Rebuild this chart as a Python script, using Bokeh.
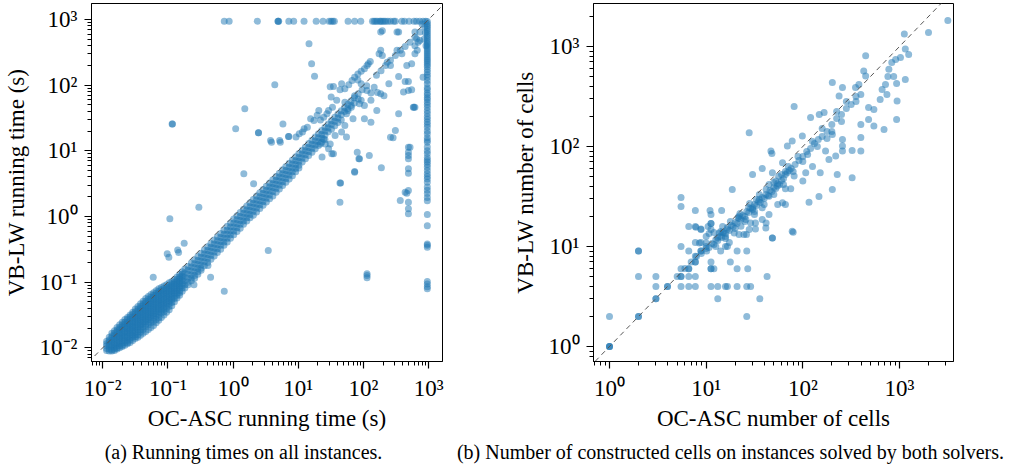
import numpy as np
from bokeh.plotting import figure
from bokeh.models import Range1d, FixedTicker, CustomJSTickFormatter, Label
from bokeh.layouts import row, column
from bokeh.embed import file_html
from bokeh.resources import INLINE

SERIF = "Liberation Serif"
BLUE = "#1f77b4"

# ---------------- data (log10 values) ----------------
# (a) running times: OC-ASC (x) vs VB-LW (y), log10 seconds
TIMEOUT_LOG = 2.975
a_top_row_x = [-0.135, -0.06, 0.372, 0.69, 0.69, 0.70, 0.855, 0.93, 1.089, 1.275, 1.38, 1.474,
               1.504, 1.53, 1.554, 1.764, 1.865, 1.959, 2.139, 2.164, 2.19, 2.214, 2.25, 2.265,
               2.29, 2.315, 2.34, 2.375, 2.415, 2.465, 2.49, 2.589, 2.63, 2.70, 2.775, 2.814,
               2.865, 2.915, 2.955]
a_right_col_y = [2.97, 2.94, 2.91, 2.88, 2.85, 2.82, 2.79, 2.76, 2.73, 2.70, 2.67, 2.64, 2.61,
                 2.58, 2.55, 2.52, 2.49, 2.46, 2.43, 2.40, 2.37, 2.34, 2.31, 2.28, 2.24, 2.20,
                 2.16, 2.12, 2.07, 2.02, 1.96, 1.93, 1.88, 1.85, 1.81, 1.78, 1.74, 1.70, 1.66,
                 1.61, 1.57, 1.52, 1.48, 1.44, 1.40, 1.36, 1.30, 1.26, 1.20, 1.16, 1.13, 1.06,
                 1.00, 0.96, 0.90, 0.86, 0.83, 0.79, 0.75, 0.70, 0.65, 0.61, 0.57, 0.52, 0.45,
                 0.40, 0.35, 0.29, 0.24, 0.03, -0.14, -0.42, -0.44, -0.47, -0.99, -1.03,
                 -1.07, -1.10]
# dense cloud of short instances: (log10 x, [log10 y values])
a_cloud_cols = [
    (-1.94, [-1.90, -1.94, -1.97, -2.01, -2.04]),
    (-1.90, [-1.84, -1.88, -1.91, -1.95, -1.98, -2.02, -2.05]),
    (-1.86, [-1.78, -1.82, -1.85, -1.89, -1.92, -1.96, -1.99, -2.03, -2.05]),
    (-1.82, [-1.74, -1.78, -1.81, -1.85, -1.88, -1.92, -1.95, -1.99, -2.02, -2.04]),
    (-1.78, [-1.69, -1.73, -1.76, -1.80, -1.83, -1.87, -1.90, -1.94, -1.97, -2.00, -2.02]),
    (-1.74, [-1.65, -1.69, -1.72, -1.76, -1.79, -1.83, -1.86, -1.90, -1.93, -1.97, -2.00]),
    (-1.70, [-1.61, -1.65, -1.68, -1.72, -1.75, -1.79, -1.82, -1.86, -1.89, -1.93, -1.96, -1.98]),
    (-1.66, [-1.57, -1.61, -1.64, -1.68, -1.71, -1.75, -1.78, -1.82, -1.85, -1.89, -1.92, -1.96]),
    (-1.62, [-1.54, -1.57, -1.61, -1.64, -1.68, -1.71, -1.75, -1.78, -1.82, -1.85, -1.89, -1.92, -1.94]),
    (-1.58, [-1.50, -1.53, -1.57, -1.60, -1.64, -1.67, -1.71, -1.74, -1.78, -1.81, -1.85, -1.88, -1.92]),
    (-1.54, [-1.46, -1.49, -1.53, -1.56, -1.60, -1.63, -1.67, -1.70, -1.74, -1.77, -1.81, -1.84, -1.89]),
    (-1.50, [-1.41, -1.45, -1.48, -1.52, -1.55, -1.59, -1.62, -1.66, -1.69, -1.73, -1.76, -1.80, -1.83, -1.86]),
    (-1.46, [-1.37, -1.41, -1.44, -1.48, -1.51, -1.55, -1.58, -1.62, -1.65, -1.69, -1.72, -1.76, -1.80, -1.84]),
    (-1.42, [-1.33, -1.37, -1.40, -1.44, -1.47, -1.51, -1.54, -1.58, -1.61, -1.65, -1.68, -1.72, -1.76, -1.81]),
    (-1.38, [-1.29, -1.33, -1.36, -1.40, -1.43, -1.47, -1.50, -1.54, -1.57, -1.61, -1.64, -1.68, -1.72, -1.78]),
    (-1.34, [-1.25, -1.29, -1.32, -1.36, -1.39, -1.43, -1.46, -1.50, -1.53, -1.57, -1.60, -1.64, -1.68, -1.75]),
    (-1.30, [-1.22, -1.26, -1.29, -1.33, -1.36, -1.40, -1.43, -1.47, -1.50, -1.54, -1.57, -1.61, -1.65, -1.72]),
    (-1.26, [-1.19, -1.23, -1.26, -1.30, -1.33, -1.37, -1.40, -1.44, -1.47, -1.51, -1.54, -1.58, -1.62, -1.69]),
    (-1.22, [-1.16, -1.20, -1.23, -1.27, -1.30, -1.34, -1.37, -1.41, -1.44, -1.48, -1.51, -1.55, -1.60, -1.66]),
    (-1.18, [-1.13, -1.17, -1.20, -1.24, -1.27, -1.31, -1.34, -1.38, -1.41, -1.45, -1.48, -1.52, -1.57, -1.62]),
    (-1.14, [-1.10, -1.14, -1.17, -1.21, -1.24, -1.28, -1.31, -1.35, -1.38, -1.42, -1.45, -1.49, -1.54, -1.58]),
    (-1.10, [-1.08, -1.12, -1.15, -1.19, -1.22, -1.26, -1.29, -1.33, -1.36, -1.40, -1.43, -1.47, -1.54]),
    (-1.06, [-1.06, -1.10, -1.13, -1.17, -1.20, -1.24, -1.27, -1.31, -1.34, -1.38, -1.41, -1.45, -1.50]),
    (-1.02, [-1.04, -1.08, -1.11, -1.15, -1.18, -1.22, -1.25, -1.29, -1.32, -1.36, -1.40, -1.46]),
    (-0.98, [-1.01, -1.05, -1.08, -1.12, -1.15, -1.19, -1.22, -1.26, -1.29, -1.33, -1.37, -1.42]),
    (-0.94, [-0.99, -1.03, -1.06, -1.10, -1.13, -1.17, -1.20, -1.24, -1.27, -1.31, -1.36]),
    (-0.90, [-0.96, -1.00, -1.03, -1.07, -1.10, -1.14, -1.17, -1.21, -1.25, -1.30]),
    (-0.86, [-0.92, -0.96, -0.99, -1.03, -1.06, -1.10, -1.13, -1.17, -1.20, -1.24]),
    (-0.82, [-0.88, -0.92, -0.95, -0.99, -1.02, -1.06, -1.09, -1.13, -1.16, -1.20]),
    (-0.78, [-0.84, -0.88, -0.91, -0.95, -0.98, -1.02, -1.05, -1.09, -1.14]),
]
# main band along the diagonal
a_band_cols = [
    (-0.74, [-0.80, -0.86, -0.92, -0.98, -1.04, -1.09]),
    (-0.69, [-0.76, -0.82, -0.88, -0.94, -1.00, -1.04]),
    (-0.64, [-0.71, -0.77, -0.83, -0.89, -0.94, -0.98]),
    (-0.59, [-0.66, -0.72, -0.78, -0.84, -0.90, -0.94]),
    (-0.54, [-0.61, -0.67, -0.73, -0.79, -0.84, -0.88]),
    (-0.49, [-0.56, -0.62, -0.68, -0.74, -0.79, -0.82]),
    (-0.44, [-0.51, -0.57, -0.63, -0.69, -0.75]),
    (-0.39, [-0.46, -0.52, -0.58, -0.64, -0.70]),
    (-0.34, [-0.41, -0.47, -0.53, -0.59, -0.65]),
    (-0.29, [-0.36, -0.42, -0.48, -0.54, -0.60]),
    (-0.24, [-0.31, -0.37, -0.43, -0.49, -0.55]),
    (-0.19, [-0.26, -0.32, -0.38, -0.44, -0.50]),
    (-0.14, [-0.21, -0.27, -0.33, -0.39, -0.44]),
    (-0.09, [-0.15, -0.21, -0.27, -0.33, -0.39]),
    (-0.04, [-0.10, -0.16, -0.22, -0.28, -0.33]),
    (0.01, [-0.04, -0.10, -0.16, -0.22, -0.28]),
    (0.06, [0.01, -0.05, -0.11, -0.17, -0.23]),
    (0.11, [0.06, 0.00, -0.06, -0.12, -0.18]),
    (0.16, [0.11, 0.05, -0.01, -0.07, -0.12]),
    (0.21, [0.16, 0.10, 0.04, -0.02, -0.07]),
    (0.26, [0.21, 0.15, 0.09, 0.03, -0.02]),
    (0.31, [0.26, 0.20, 0.14, 0.08, 0.02]),
    (0.36, [0.31, 0.25, 0.19, 0.13, 0.07]),
    (0.41, [0.36, 0.30, 0.24, 0.18, 0.12]),
    (0.46, [0.41, 0.35, 0.29, 0.23, 0.17]),
    (0.51, [0.46, 0.40, 0.34, 0.28, 0.22]),
    (0.56, [0.51, 0.45, 0.39, 0.33, 0.27]),
    (0.61, [0.56, 0.50, 0.44, 0.38, 0.31]),
    (0.66, [0.61, 0.55, 0.49, 0.43, 0.37]),
    (0.71, [0.66, 0.60, 0.54, 0.48, 0.42]),
    (0.76, [0.71, 0.65, 0.59, 0.53, 0.47]),
    (0.81, [0.76, 0.70, 0.64, 0.58, 0.52]),
    (0.86, [0.81, 0.75, 0.69, 0.63, 0.57]),
    (0.91, [0.86, 0.80, 0.74, 0.68, 0.62]),
    (0.96, [0.91, 0.85, 0.79, 0.73, 0.68]),
    (1.01, [0.96, 0.90, 0.84, 0.78, 0.74]),
    (1.06, [1.01, 0.95, 0.89, 0.83]),
    (1.11, [1.06, 1.00, 0.94, 0.88]),
    (1.16, [1.11, 1.05, 0.99, 0.93]),
    (1.21, [1.16, 1.10, 1.04, 0.98]),
    (1.26, [1.21, 1.15, 1.09, 1.03]),
    (1.31, [1.26, 1.20, 1.14, 1.08]),
    (1.36, [1.31, 1.25, 1.19, 1.13]),
    (1.41, [1.36, 1.30, 1.24, 1.17]),
    (1.46, [1.41, 1.35, 1.29]),
    (1.51, [1.46, 1.40, 1.33]),
    (1.56, [1.51, 1.45, 1.38]),
    (1.61, [1.56, 1.50, 1.43]),
    (1.66, [1.61, 1.55, 1.47]),
    (1.71, [1.66, 1.60]),
    (1.76, [1.71, 1.64]),
    (1.81, [1.76, 1.69]),
    (1.86, [1.81, 1.73]),
    (1.92, [1.87, 1.79]),
    (1.98, [1.93]),
    (2.05, [1.99]),
]
a_scatter = [
    (1.165, 2.63), (1.205, 2.325), (1.25, 2.137), (0.64, 2.005), (0.18, 1.64), (-0.935, 1.41),
    (-0.93, 1.41), (0.04, 1.335), (0.39, 1.274), (0.575, 1.157), (0.59, 1.13), (0.715, 1.157),
    (0.725, 1.13), (0.855, 1.218), (0.765, 1.41), (0.165, 0.65), (0.315, 0.497), (-0.525, 0.142),
    (-0.97, -0.036), (-0.75, -0.406), (-1.01, -0.569), (-0.985, -0.62), (-0.85, -0.51),
    (-0.835, -0.55), (0.54, -0.518), (-1.225, -0.924), (-0.135, -1.137), (-0.385, -0.746),
    (-0.345, -0.924), (-0.60, -1.04), (2.055, -0.873), (2.055, -0.90), (2.055, -0.934),
    (1.64, 0.218), (1.65, 0.508), (1.865, 0.685), (1.93, 0.878), (2.09, 0.929), (2.275, 0.741),
    (2.415, 1.208), (2.49, 1.31), (2.54, 1.563), (2.69, 1.056), (2.69, 0.98), (2.69, 0.93),
    (2.69, 0.878), (2.69, 0.726), (2.69, 0.66), (2.64, 0.37), (2.69, 0.396), (2.69, 0.218),
    (2.69, 0.117), (2.69, 0.04), (2.765, 1.665), (2.79, 1.665), (2.29, 2.45), (2.29, 2.83),
    (2.54, 2.81), (2.79, 2.81), (2.815, 2.705), (2.84, 2.655), (2.865, 2.68), (2.79, 2.60),
    (2.105, 2.36), (2.075, 2.325), (2.055, 2.30), (2.015, 2.25), (1.965, 2.21), (1.915, 2.17),
    (1.865, 2.12), (1.825, 2.07), (1.775, 2.005), (1.715, 1.945), (1.665, 2.02), (1.64, 1.93),
    (1.54, 1.98), (1.49, 1.975), (1.505, 1.82), (1.59, 1.77), (1.525, 1.665), (1.465, 1.615),
    (1.44, 1.565), (1.39, 1.51), (1.34, 1.47), (1.315, 1.615), (1.29, 1.54), (1.24, 1.46),
    (1.19, 1.49), (1.14, 1.36), (1.09, 1.335), (1.065, 1.285), (1.015, 1.26), (0.965, 1.21),
    (1.865, 1.84), (1.94, 1.715), (1.965, 1.77), (2.015, 1.69), (2.115, 1.77), (2.165, 1.97),
    (2.215, 1.89), (2.265, 1.87), (2.315, 1.84), (2.205, 1.615), (2.115, 1.435), (2.015, 1.49),
    (1.84, 1.49), (1.74, 1.565), (1.715, 1.385), (1.665, 1.285), (1.565, 1.235), (1.49, 1.105),
    (1.415, 1.105), (1.465, 1.03), (1.54, 0.955), (1.365, 0.905), (1.74, 1.21), (1.905, 0.98),
    (1.94, 0.88), (1.865, 0.675), (1.64, 0.51), (2.515, 2.53), (2.59, 2.48), (2.665, 2.30),
    (2.74, 2.325), (2.79, 2.48), (2.825, 2.53), (2.39, 2.02), (2.54, 2.13), (2.64, 2.055),
    (2.69, 2.055), (2.615, 1.895), (2.69, 1.92), (2.74, 1.93), (2.775, 1.665), (2.915, 2.12),
    (2.455, 1.20), (2.715, 1.055), (2.665, 0.355), (2.565, 0.245), (2.265, 2.81), (2.515, 2.81),
    (2.265, 2.53), (2.24, 2.48), (2.365, 2.35), (2.415, 2.30), (2.115, 1.88), (2.055, 1.92),
    (1.965, 2.02), (1.915, 2.08), (1.715, 1.74), (1.765, 1.615), (1.815, 1.665), (0.39, 1.275),
    (0.85, 1.218), (1.515, 0.955), (1.39, 1.18), (1.34, 1.105),
    (2.94, 2.885), (2.865, 2.81), (2.79, 2.73), (2.715, 2.655), (2.64, 2.59), (2.565, 2.53),
    (2.49, 2.45), (2.415, 2.38), (2.34, 2.30), (2.27, 2.22), (2.20, 2.15), (2.90, 2.93),
    (2.95, 2.80), (2.93, 2.70), (2.96, 2.60),
]

# (b) number of cells: OC-ASC (x) vs VB-LW (y), log10 counts
b_low = [
    (0.0, 0.0), (0.0, 0.0), (0.0, 0.0), (0.0, 0.30), (0.30, 0.30), (0.30, 0.30), (0.30, 0.954),
    (0.30, 0.954), (0.30, 0.70), (0.48, 0.477), (0.48, 0.477), (0.48, 0.70), (0.48, 0.60),
    (0.60, 0.60), (0.60, 0.60), (0.74, 0.70), (0.74, 0.70), (0.74, 0.778), (0.74, 0.60),
    (0.74, 1.0), (0.74, 1.40), (0.74, 1.49), (0.82, 0.778), (0.82, 0.778), (0.82, 0.70),
    (0.82, 0.60), (0.82, 0.954), (0.82, 1.20), (0.888, 0.70), (0.888, 0.60), (0.888, 0.845),
    (0.888, 0.845), (0.888, 0.903), (0.888, 1.20), (0.888, 1.04), (0.946, 0.954), (0.946, 0.954),
    (0.946, 1.176), (0.946, 1.04), (1.005, 0.954), (1.05, 0.845), (1.05, 0.778), (1.05, 0.778),
    (1.08, 0.778), (1.05, 0.60), (1.12, 0.60), (1.20, 0.60), (1.22, 0.60), (1.32, 0.60),
    (1.42, 0.60), (1.46, 0.60), (1.12, 0.477), (1.555, 0.477), (1.42, 0.30), (1.32, 0.778),
    (1.43, 0.778), (1.63, 0.70), (1.25, 0.845), (1.15, 0.954), (1.32, 0.954), (1.42, 0.954),
    (1.20, 1.0), (1.24, 1.04), (1.03, 1.13), (1.08, 1.14), (1.02, 1.20), (1.17, 1.14),
    (1.17, 1.20), (1.16, 1.36), (1.04, 1.36), (0.888, 1.36), (1.05, 1.23), (1.05, 1.23),
    (1.05, 1.32), (1.51, 1.176), (1.46, 1.236), (1.62, 1.236), (1.685, 1.086), (1.82, 1.42),
    (1.90, 1.143), (1.74, 1.42), (1.65, 1.32), (1.445, 1.17), (1.417, 1.12), (0.93, 1.036),
    (0.946, 1.17), (0.894, 1.193), (1.0, 1.10), (1.0, 1.036), (1.05, 1.17), (1.135, 1.136),
    (1.20, 1.10), (1.22, 1.0), (1.29, 1.136), (1.34, 1.12), (0.90, 0.90), (0.95, 0.93),
    (1.0, 1.0), (0.70, 0.70), (0.78, 0.78), (0.845, 0.845),
]
b_band = [
    (1.00, 0.98), (1.03, 0.99), (1.06, 1.03), (1.08, 1.02), (1.10, 1.07), (1.12, 1.06),
    (1.14, 1.10), (1.16, 1.09), (1.18, 1.14), (1.20, 1.13), (1.22, 1.17), (1.24, 1.16),
    (1.26, 1.21), (1.28, 1.20), (1.30, 1.24), (1.32, 1.23), (1.34, 1.28), (1.36, 1.27),
    (1.38, 1.31), (1.40, 1.30), (1.42, 1.35), (1.44, 1.34), (1.46, 1.38), (1.48, 1.37),
    (1.50, 1.42), (1.52, 1.41), (1.54, 1.45), (1.56, 1.44), (1.58, 1.49), (1.60, 1.48),
    (1.62, 1.52), (1.64, 1.51), (1.66, 1.56), (1.68, 1.55), (1.70, 1.59), (1.72, 1.58),
    (1.74, 1.63), (1.76, 1.62), (1.78, 1.66), (1.80, 1.68), (1.84, 1.74), (1.88, 1.78),
    (1.92, 1.82), (1.96, 1.86), (2.00, 1.90), (2.04, 1.95), (2.08, 1.98), (2.12, 2.03),
    (2.16, 2.07), (2.20, 2.10), (2.25, 2.15), (2.30, 2.22), (2.35, 2.28), (2.40, 2.32),
    (2.45, 2.38), (2.50, 2.42), (2.55, 2.45), (2.60, 2.52),
    (1.10, 1.00), (1.20, 1.08), (1.30, 1.18), (1.40, 1.25), (1.50, 1.35), (1.60, 1.42),
    (1.70, 1.52), (1.80, 1.62), (1.15, 1.15), (1.25, 1.25), (1.35, 1.33), (1.45, 1.43),
    (1.55, 1.52), (1.65, 1.62), (1.75, 1.70), (1.85, 1.80), (1.95, 1.90), (2.05, 1.92),
    (2.15, 2.00), (2.25, 2.08), (1.90, 1.75), (2.00, 1.85), (2.10, 2.05), (2.20, 2.18),
    (2.30, 2.15), (2.40, 2.25), (2.45, 2.45), (2.55, 2.50), (2.35, 2.35),
    (1.82, 1.75), (1.86, 1.76), (1.78, 1.72), (1.70, 1.64), (1.62, 1.57), (1.52, 1.47),
    (1.44, 1.39), (1.33, 1.29), (1.22, 1.19), (1.12, 1.09),
]
b_scatter = [
    (1.91, 2.40), (1.445, 2.138), (1.67, 1.955), (1.68, 1.93), (1.84, 2.005), (1.89, 2.055),
    (1.995, 2.105), (1.48, 1.72), (1.27, 1.57), (1.58, 1.78), (1.685, 1.737), (1.72, 1.654),
    (1.79, 1.838), (1.82, 1.72), (2.08, 2.29), (2.17, 2.32), (2.22, 2.34), (2.305, 2.64),
    (2.41, 2.59), (2.375, 2.505), (2.545, 2.59), (2.58, 2.62), (2.63, 2.756), (2.65, 2.907),
    (2.65, 2.706), (2.89, 2.773), (3.05, 3.124), (3.06, 2.974), (3.01, 2.89), (3.095, 2.92),
    (2.92, 2.84), (2.96, 2.87), (3.30, 3.14), (3.50, 3.26),
    (3.06, 2.67), (2.97, 2.63), (2.94, 2.70), (2.88, 2.70), (2.855, 2.62), (2.87, 2.52),
    (2.82, 2.57), (2.80, 2.47), (2.975, 2.455), (2.97, 2.27), (2.84, 2.17), (2.735, 2.205),
    (2.68, 2.27), (2.60, 2.22), (2.68, 2.39), (2.735, 2.37), (2.60, 2.09), (2.60, 1.955),
    (2.51, 1.96), (2.41, 2.07), (2.305, 2.12), (2.41, 2.005), (2.34, 1.905), (2.41, 1.955),
    (2.356, 1.72), (2.51, 1.687), (2.305, 1.57), (2.167, 1.50), (2.064, 1.443), (2.18, 1.737),
    (2.10, 1.80), (2.27, 1.87), (2.235, 1.955), (2.03, 1.737), (2.00, 1.654), (1.91, 1.704),
    (1.875, 1.577), (1.82, 1.577), (1.737, 1.604), (1.65, 1.503), (1.58, 1.387), (1.55, 1.47),
    (1.48, 1.387), (1.41, 1.27), (1.34, 1.303), (1.36, 1.203), (1.39, 1.12), (1.685, 1.086),
    (1.89, 1.153), (1.617, 1.186), (1.58, 1.27), (1.79, 1.437), (1.50, 1.32), (1.51, 1.236),
]

# axis ranges (log10) and ticks
A_XLIM = (-2.172, 3.213)
A_YLIM = (-2.2086, 3.2436)
B_XLIM = (-0.1655, 3.5586)
B_YLIM = (-0.15, 3.43)
a_ticks = [0.01, 0.1, 1, 10, 100, 1000]
b_ticks = [1, 10, 100, 1000]
minor_ticks = [m * 10.0 ** k for k in range(-3, 5) for m in range(2, 10)]

captions = ["(a) Running times on all instances.",
            "(b) Number of constructed cells on instances solved by both solvers."]


def unlog(pairs):
    arr = np.array(pairs, dtype=float)
    return 10 ** arr[:, 0], 10 ** arr[:, 1]


def unlog_cols(cols):
    xs, ys = [], []
    for x, yl in cols:
        for y in yl:
            xs.append(x)
            ys.append(y)
    return 10 ** np.array(xs), 10 ** np.array(ys)


sup_js = """
const sup = {"-": "\u207b", "0": "\u2070", "1": "\u00b9", "2": "\u00b2", "3": "\u00b3",
             "4": "\u2074", "5": "\u2075", "6": "\u2076", "7": "\u2077", "8": "\u2078", "9": "\u2079"};
const e = Math.round(Math.log10(tick));
let s = "10";
for (const c of String(e)) { s += sup[c]; }
return s;
"""

FIG_H = 436


def make_fig(width, left, xlim, ylim, ticks, xlabel, ylabel, groups):
    p = figure(width=width, height=FIG_H, x_axis_type="log", y_axis_type="log",
               x_range=Range1d(10 ** xlim[0], 10 ** xlim[1]),
               y_range=Range1d(10 ** ylim[0], 10 ** ylim[1]),
               toolbar_location=None, output_backend="svg",
               min_border_left=left, min_border_right=width - left - 360,
               min_border_top=3, min_border_bottom=FIG_H - 3 - 358)
    p.border_fill_color = None
    for xs, ys in groups:
        p.scatter(xs, ys, size=7, fill_color=BLUE, fill_alpha=0.5, line_color=None)
    lo = min(xlim[0], ylim[0]) - 0.5
    hi = max(xlim[1], ylim[1]) + 0.5
    p.line([10 ** lo, 10 ** hi], [10 ** lo, 10 ** hi], line_color="#555555",
           line_width=1, line_dash="5 4")
    p.grid.visible = False
    p.outline_line_color = "black"
    p.outline_line_width = 1
    for ax in (p.xaxis[0], p.yaxis[0]):
        ax.ticker = FixedTicker(ticks=ticks, minor_ticks=minor_ticks)
        ax.formatter = CustomJSTickFormatter(code=sup_js)
        ax.major_label_text_font = SERIF
        ax.major_label_text_font_size = "23px"
        ax.major_label_text_color = "black"
        ax.axis_label_text_font = SERIF
        ax.axis_label_text_font_size = "23px"
        ax.axis_label_text_font_style = "normal"
        ax.axis_label_text_color = "black"
        ax.axis_line_color = "black"
        ax.major_tick_line_color = "black"
        ax.minor_tick_line_color = "black"
        ax.major_tick_line_width = 1.2
        ax.minor_tick_line_width = 1
        ax.major_tick_in = 0
        ax.major_tick_out = 7
        ax.minor_tick_in = 0
        ax.minor_tick_out = 4
        ax.level = "overlay"
    p.xaxis.axis_label = xlabel
    p.yaxis.axis_label = ylabel
    p.xaxis.major_label_standoff = 7
    p.yaxis.major_label_standoff = 7
    p.xaxis.axis_label_standoff = 2
    p.yaxis.axis_label_standoff = 8
    return p


a_groups = [
    unlog_cols(a_cloud_cols), unlog_cols(a_band_cols), unlog(a_scatter),
    (10 ** np.array(a_top_row_x), np.full(len(a_top_row_x), 10 ** TIMEOUT_LOG)),
    (np.full(len(a_right_col_y), 10 ** 2.98), 10 ** np.array(a_right_col_y)),
]
b_groups = [unlog(b_low), unlog(b_band), unlog(b_scatter)]

p1 = make_fig(500, 82, A_XLIM, A_YLIM, a_ticks, "OC-ASC running time (s)",
              "VB-LW running time (s)", a_groups)
p2 = make_fig(505, 93, B_XLIM, B_YLIM, b_ticks, "OC-ASC number of cells",
              "VB-LW number of cells", b_groups)

CAP_H = 30
cap = figure(width=1005, height=CAP_H, x_range=Range1d(0, 1005), y_range=Range1d(0, CAP_H),
             toolbar_location=None, output_backend="svg", min_border=0)
cap.axis.visible = False
cap.grid.visible = False
cap.outline_line_color = None
for txt, cx in zip(captions, [243, 730]):
    cap.add_layout(Label(x=cx, y=15, text=txt, text_align="center", text_baseline="middle",
                         text_font=SERIF, text_font_size="20px", text_color="black"))

layout = column(row(p1, p2), cap)
open("out.html", "w").write(file_html(layout, INLINE))
